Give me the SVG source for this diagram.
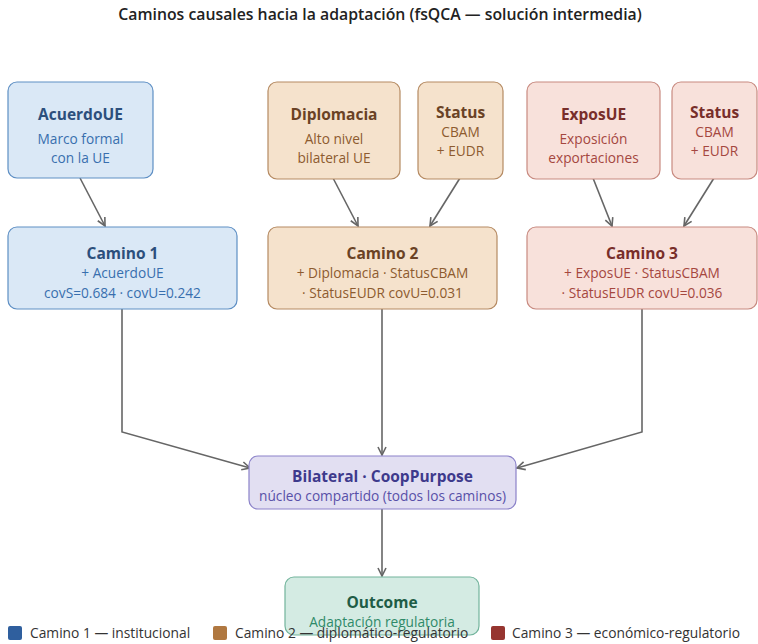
<svg xmlns="http://www.w3.org/2000/svg" width="758" height="644" viewBox="0 0 758 644">
<style>
text{font-family:"Open Sans","Noto Sans","DejaVu Sans",sans-serif;text-anchor:middle}
.t{font-weight:bold;font-size:15.5px}
.s{font-size:13.7px}
.b rect{fill:#dae8f6;stroke:#5e8fc4}
.b .t{fill:#2c4f7c}.b .s{fill:#386fae}
.o rect{fill:#f5e2cc;stroke:#b58a62}
.o .t{fill:#6a4225}.o .s{fill:#8d5b2f}
.r rect{fill:#f8e1db;stroke:#c88a80}
.r .t{fill:#782e2a}.r .s{fill:#a5473f}
.p rect{fill:#e2dff2;stroke:#8b82c9}
.p .t{fill:#3e3a8c}.p .s{fill:#5850a8}
.g rect{fill:#d4ebe3;stroke:#72b49c}
.g .t{fill:#1f5c46}.g .s{fill:#2f8a69}
rect{stroke-width:1.2}
#edges path{fill:none;stroke:#666;stroke-width:1.6;marker-end:url(#ah)}
.lg{font-size:13.8px;fill:#333;text-anchor:start}
</style>
<defs>
<marker id="ah" viewBox="0 0 10 10" refX="9" refY="5" markerWidth="10" markerHeight="10" markerUnits="userSpaceOnUse" orient="auto">
<path d="M1,1 L9,5 L1,9" fill="none" stroke="#666" stroke-width="1.6"/>
</marker>
</defs>
<rect width="758" height="644" fill="#fff"/>
<text x="380" y="20" style="font-weight:600;font-size:15.8px;fill:#222">Caminos causales hacia la adaptación (fsQCA — solución intermedia)</text>

<g id="edges">
<path d="M80,178 L105,226"/>
<path d="M333,178 L358,226"/>
<path d="M460,178 L430,226"/>
<path d="M593,178 L612,226"/>
<path d="M714,178 L684,226"/>
<path d="M122,309 L122,432 L250,468"/>
<path d="M382,309 L382,455"/>
<path d="M642,309 L642,432 L517,468"/>
<path d="M382,509 L382,576"/>
</g>

<g id="acuerdoue" class="b">
<rect x="8" y="82" width="145" height="96" rx="9"/>
<text class="t" x="80.5" y="120">AcuerdoUE</text>
<text class="s" x="80.5" y="144">Marco formal</text>
<text class="s" x="80.5" y="163">con la UE</text>
</g>
<g id="camino1" class="b">
<rect x="8" y="227" width="229" height="82" rx="9"/>
<text class="t" x="122.5" y="259">Camino 1</text>
<text class="s" x="122.5" y="278">+ AcuerdoUE</text>
<text class="s" x="122.5" y="298">covS=0.684 · covU=0.242</text>
</g>

<g id="diplomacia" class="o">
<rect x="268" y="82" width="132" height="97" rx="9"/>
<text class="t" x="334" y="120">Diplomacia</text>
<text class="s" x="334" y="144">Alto nivel</text>
<text class="s" x="334" y="163">bilateral UE</text>
</g>
<g id="status2" class="o">
<rect x="418" y="82" width="85" height="97" rx="9"/>
<text class="t" x="460.5" y="118">Status</text>
<text class="s" x="460.5" y="137">CBAM</text>
<text class="s" x="460.5" y="156">+ EUDR</text>
</g>
<g id="camino2" class="o">
<rect x="268" y="227" width="229" height="82" rx="9"/>
<text class="t" x="382.5" y="259">Camino 2</text>
<text class="s" x="382.5" y="278">+ Diplomacia · StatusCBAM</text>
<text class="s" x="382.5" y="298">· StatusEUDR covU=0.031</text>
</g>

<g id="exposue" class="r">
<rect x="527" y="82" width="133" height="97" rx="9"/>
<text class="t" x="593.5" y="120">ExposUE</text>
<text class="s" x="593.5" y="144">Exposición</text>
<text class="s" x="593.5" y="163">exportaciones</text>
</g>
<g id="status3" class="r">
<rect x="672" y="82" width="85" height="97" rx="9"/>
<text class="t" x="714.5" y="118">Status</text>
<text class="s" x="714.5" y="137">CBAM</text>
<text class="s" x="714.5" y="156">+ EUDR</text>
</g>
<g id="camino3" class="r">
<rect x="527" y="227" width="230" height="82" rx="9"/>
<text class="t" x="642" y="259">Camino 3</text>
<text class="s" x="642" y="278">+ ExposUE · StatusCBAM</text>
<text class="s" x="642" y="298">· StatusEUDR covU=0.036</text>
</g>

<g id="bilateral" class="p">
<rect x="249" y="456" width="267" height="53" rx="9"/>
<text class="t" x="382.5" y="482">Bilateral · CoopPurpose</text>
<text class="s" x="382.5" y="501">núcleo compartido (todos los caminos)</text>
</g>

<g id="outcome" class="g">
<rect x="285" y="577" width="194" height="58" rx="9"/>
<text class="t" x="382" y="608">Outcome</text>
<text class="s" x="382" y="627">Adaptación regulatoria</text>
</g>

<g id="legend">
<rect x="8" y="626" width="14" height="14" rx="2" fill="#2f5f9e"/>
<text class="lg" x="30" y="638">Camino 1 — institucional</text>
<rect x="213" y="626" width="14" height="14" rx="2" fill="#b07840"/>
<text class="lg" x="235" y="638">Camino 2 — diplomático-regulatorio</text>
<rect x="491" y="626" width="14" height="14" rx="2" fill="#963530"/>
<text class="lg" x="512" y="638">Camino 3 — económico-regulatorio</text>
</g>
</svg>
